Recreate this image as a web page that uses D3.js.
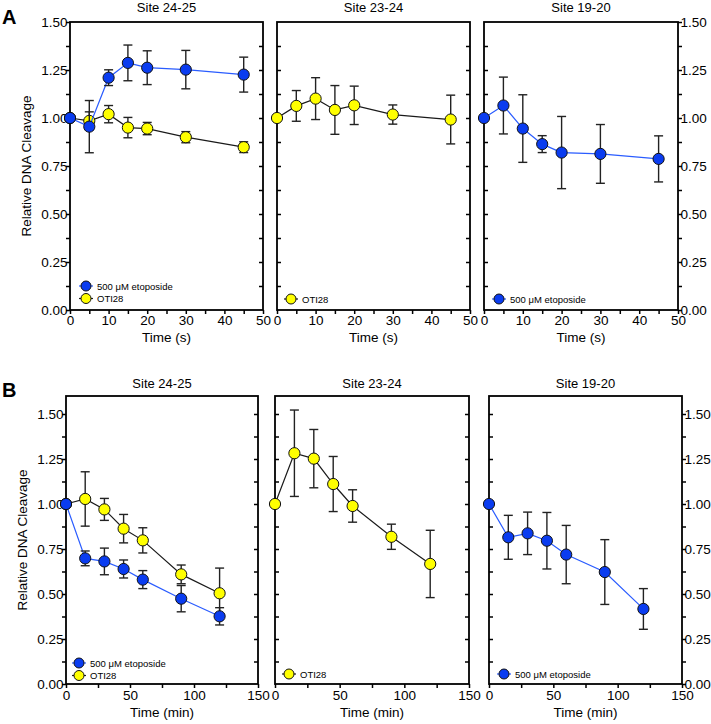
<!DOCTYPE html>
<html>
<head>
<meta charset="utf-8">
<script src="https://cdn.jsdelivr.net/npm/d3@7"></script>
<style>
  body { margin: 0; background: #fff; }
  svg { display: block; }
  text { font-family: "Liberation Sans", Arial, sans-serif; fill: #000; }
</style>
</head>
<body>
<svg id="chart" width="711" height="724"></svg>
<script>
// ---------------- DATA ----------------
const timesA = [0, 5, 10, 15, 20, 30, 45];          // seconds
const timesB = [0, 15, 30, 45, 60, 90, 120];        // minutes

const titles = ["Site 24-25", "Site 23-24", "Site 19-20"];
const seriesNames = ["500 \u03bcM etoposide", "OTI28"];

// Panel A (time in s)
const A_2425_eto     = [1.00, 0.955, 1.210, 1.287, 1.262, 1.252, 1.226];
const A_2425_eto_err = [0,    0.136, 0.041, 0.093, 0.088, 0.100, 0.091];
const A_2425_oti     = [1.00, 0.985, 1.020, 0.950, 0.945, 0.900, 0.848];
const A_2425_oti_err = [0,    0.047, 0.045, 0.053, 0.032, 0.029, 0.028];
const A_2324_oti     = [1.00, 1.063, 1.101, 1.042, 1.066, 1.018, 0.992];
const A_2324_oti_err = [0,    0.080, 0.109, 0.127, 0.100, 0.050, 0.127];
const A_1920_eto     = [1.00, 1.065, 0.945, 0.864, 0.820, 0.813, 0.787];
const A_1920_eto_err = [0,    0.148, 0.176, 0.044, 0.188, 0.153, 0.120];

// Panel B (time in min)
const B_2425_eto     = [1.00, 0.698, 0.681, 0.639, 0.580, 0.474, 0.376];
const B_2425_eto_err = [0,    0.041, 0.074, 0.050, 0.050, 0.073, 0.048];
const B_2425_oti     = [1.00, 1.028, 0.970, 0.863, 0.798, 0.609, 0.504];
const B_2425_oti_err = [0,    0.151, 0.061, 0.079, 0.070, 0.052, 0.140];
const B_2324_oti     = [1.00, 1.282, 1.252, 1.111, 0.989, 0.818, 0.667];
const B_2324_oti_err = [0,    0.240, 0.162, 0.153, 0.090, 0.070, 0.187];
const B_1920_eto     = [1.00, 0.815, 0.837, 0.796, 0.719, 0.622, 0.417];
const B_1920_eto_err = [0,    0.122, 0.118, 0.157, 0.162, 0.180, 0.113];

// Tick values
const yTicksA = [0, 0.125, 0.25, 0.375, 0.5, 0.625, 0.75, 0.875, 1, 1.125, 1.25, 1.375, 1.5];
const yTicksB = [0, 0.125, 0.25, 0.375, 0.5, 0.625, 0.75, 0.875, 1, 1.125, 1.25, 1.375, 1.5];
const yLabelsA = [0, 0.25, 0.5, 0.75, 1, 1.25, 1.5];
const yLabelsB = [0, 0.25, 0.5, 0.75, 1, 1.25, 1.5];
const xTicksA = [0, 5, 10, 15, 20, 25, 30, 35, 40, 45, 50];
const xLabelsA = [0, 10, 20, 30, 40, 50];
const xTicksB = [0, 25, 50, 75, 100, 125, 150];
const xLabelsB = [0, 50, 100, 150];

// ---------------- STYLE ----------------
const COL = {
  eto: { fill: "#0a3cf0", line: "#2a5cff" },
  oti: { fill: "#ffff00", line: "#1a1a1a" }
};

const svg = d3.select("#chart");
const fmt = d3.format(".2f");

function series(key, name, times, vals, errs) {
  return { key, name, pts: times.map((t, i) => ({ t, v: vals[i], e: errs[i] })) };
}

const rows = [
  {
    letter: "A", letterY: 24,
    top: 22, bottom: 310, yMax: 1.5, xMax: 50,
    yTicks: yTicksA, yLabels: yLabelsA, xTicks: xTicksA, xLabels: xLabelsA,
    xTitle: "Time (s)", titleY: 12, xLabelY: 325, xTitleY: 342,
    panels: [
      { left: 70, right: 263, title: titles[0], side: "left",
        series: [series("oti", seriesNames[1], timesA, A_2425_oti, A_2425_oti_err),
                 series("eto", seriesNames[0], timesA, A_2425_eto, A_2425_eto_err)],
        legend: { x: 86, y: 286, items: ["eto", "oti"] } },
      { left: 277, right: 470, title: titles[1], side: "mid",
        series: [series("oti", seriesNames[1], timesA, A_2324_oti, A_2324_oti_err)],
        legend: { x: 291, y: 299, items: ["oti"] } },
      { left: 484, right: 678, title: titles[2], side: "right",
        series: [series("eto", seriesNames[0], timesA, A_1920_eto, A_1920_eto_err)],
        legend: { x: 499, y: 299, items: ["eto"] } }
    ]
  },
  {
    letter: "B", letterY: 397,
    top: 396, bottom: 684, yMax: 1.6, xMax: 150,
    yTicks: yTicksB, yLabels: yLabelsB, xTicks: xTicksB, xLabels: xLabelsB,
    xTitle: "Time (min)", titleY: 388, xLabelY: 700, xTitleY: 717,
    panels: [
      { left: 66, right: 258, title: titles[0], side: "left",
        series: [series("oti", seriesNames[1], timesB, B_2425_oti, B_2425_oti_err),
                 series("eto", seriesNames[0], timesB, B_2425_eto, B_2425_eto_err)],
        legend: { x: 79, y: 663, items: ["eto", "oti"] } },
      { left: 275, right: 469, title: titles[1], side: "mid",
        series: [series("oti", seriesNames[1], timesB, B_2324_oti, B_2324_oti_err)],
        legend: { x: 289, y: 674, items: ["oti"] } },
      { left: 489, right: 682, title: titles[2], side: "right",
        series: [series("eto", seriesNames[0], timesB, B_1920_eto, B_1920_eto_err)],
        legend: { x: 504, y: 674, items: ["eto"] } }
    ]
  }
];

rows.forEach(row => {
  svg.append("text")
    .attr("x", 2).attr("y", row.letterY)
    .attr("font-size", 20).attr("font-weight", "bold")
    .text(row.letter);

  row.panels.forEach(p => {
    const x = d3.scaleLinear().domain([0, row.xMax]).range([p.left, p.right]);
    const y = d3.scaleLinear().domain([0, row.yMax]).range([row.bottom, row.top]);
    const g = svg.append("g");

    const yFmt = d => (row.yLabels.some(v => Math.abs(v - d) < 1e-9) ? fmt(d) : "");
    const xFmt = d => (row.xLabels.includes(d) ? String(d) : "");

    // left side ticks
    if (p.side === "left") {
      const ax = g.append("g").attr("transform", `translate(${p.left},0)`)
        .call(d3.axisLeft(y).tickValues(row.yTicks).tickSize(4).tickPadding(-1.5).tickFormat(yFmt));
      ax.selectAll("text").attr("font-size", 13.5);
      ax.select(".domain").remove();
    } else {
      const ax = g.append("g").attr("transform", `translate(${p.left},0)`)
        .call(d3.axisRight(y).tickValues(row.yTicks.filter(v => v > 0 && v < row.yMax)).tickSize(4).tickFormat(""));
      ax.select(".domain").remove();
    }
    // right side ticks
    if (p.side === "right") {
      const ax = g.append("g").attr("transform", `translate(${p.right},0)`)
        .call(d3.axisRight(y).tickValues(row.yTicks).tickSize(4).tickPadding(-1.5).tickFormat(yFmt));
      ax.selectAll("text").attr("font-size", 13.5);
      ax.select(".domain").remove();
    } else {
      const ax = g.append("g").attr("transform", `translate(${p.right},0)`)
        .call(d3.axisLeft(y).tickValues(row.yTicks.filter(v => v > 0 && v < row.yMax)).tickSize(4).tickFormat(""));
      ax.select(".domain").remove();
    }
    g.selectAll(".tick line").attr("stroke", "#000").attr("stroke-width", 1.5);

    // x axis
    const xa = g.append("g").attr("transform", `translate(0,${row.bottom})`)
      .call(d3.axisBottom(x).tickValues(row.xTicks).tickSize(4).tickPadding(2).tickFormat(xFmt));
    xa.select(".domain").remove();
    xa.selectAll(".tick line").attr("stroke", "#000").attr("stroke-width", 1.5);
    xa.selectAll("text").attr("font-size", 13.5).attr("dy", null).attr("y", row.xLabelY - row.bottom);

    g.selectAll(".tick text").attr("fill", "#000").style("font-family", '"Liberation Sans", Arial, sans-serif');

    // frame
    g.append("rect")
      .attr("x", p.left).attr("y", row.top)
      .attr("width", p.right - p.left).attr("height", row.bottom - row.top)
      .attr("fill", "none").attr("stroke", "#000").attr("stroke-width", 1.8);

    // title
    g.append("text").attr("x", (p.left + p.right) / 2).attr("y", row.titleY)
      .attr("text-anchor", "middle").attr("font-size", 13).text(p.title);
    // x title
    g.append("text").attr("x", (p.left + p.right) / 2).attr("y", row.xTitleY)
      .attr("text-anchor", "middle").attr("font-size", 13.5).text(row.xTitle);
    // y title
    if (p.side === "left") {
      g.append("text")
        .attr("transform", `translate(${p.left - 39},${(row.top + row.bottom) / 2}) rotate(-90)`)
        .attr("text-anchor", "middle").attr("font-size", 13.5).text("Relative DNA Cleavage");
    }

    // series
    const line = d3.line().x(d => x(d.t)).y(d => y(d.v));
    p.series.forEach(s => {
      const c = COL[s.key];
      const sg = g.append("g");
      sg.append("path").datum(s.pts).attr("d", line)
        .attr("fill", "none").attr("stroke", c.line).attr("stroke-width", 1.2);
      const eb = sg.selectAll(".eb").data(s.pts.filter(d => d.e > 0)).enter().append("g");
      eb.append("line").attr("x1", d => x(d.t)).attr("x2", d => x(d.t))
        .attr("y1", d => y(d.v + d.e)).attr("y2", d => y(d.v - d.e))
        .attr("stroke", "#222").attr("stroke-width", 1.4);
      [1, -1].forEach(sgn => {
        eb.append("line").attr("x1", d => x(d.t) - 4.5).attr("x2", d => x(d.t) + 4.5)
          .attr("y1", d => y(d.v + sgn * d.e)).attr("y2", d => y(d.v + sgn * d.e))
          .attr("stroke", "#222").attr("stroke-width", 1.4);
      });
      sg.selectAll("circle").data(s.pts).enter().append("circle")
        .attr("cx", d => x(d.t)).attr("cy", d => y(d.v)).attr("r", 5.6)
        .attr("fill", c.fill).attr("stroke", "#111").attr("stroke-width", 1);
    });

    // legend
    p.legend.items.forEach((k, i) => {
      const c = COL[k];
      const ly = p.legend.y + i * 12.5;
      const lx = p.legend.x;
      g.append("line").attr("x1", lx - 7).attr("x2", lx + 7).attr("y1", ly).attr("y2", ly)
        .attr("stroke", c.line).attr("stroke-width", 1.2);
      g.append("circle").attr("cx", lx).attr("cy", ly).attr("r", 5)
        .attr("fill", c.fill).attr("stroke", "#111").attr("stroke-width", 1);
      g.append("text").attr("x", lx + 11).attr("y", ly + 3.5).attr("font-size", 9.5)
        .text(seriesNames[k === "eto" ? 0 : 1]);
    });
  });
});
</script>
</body>
</html>
